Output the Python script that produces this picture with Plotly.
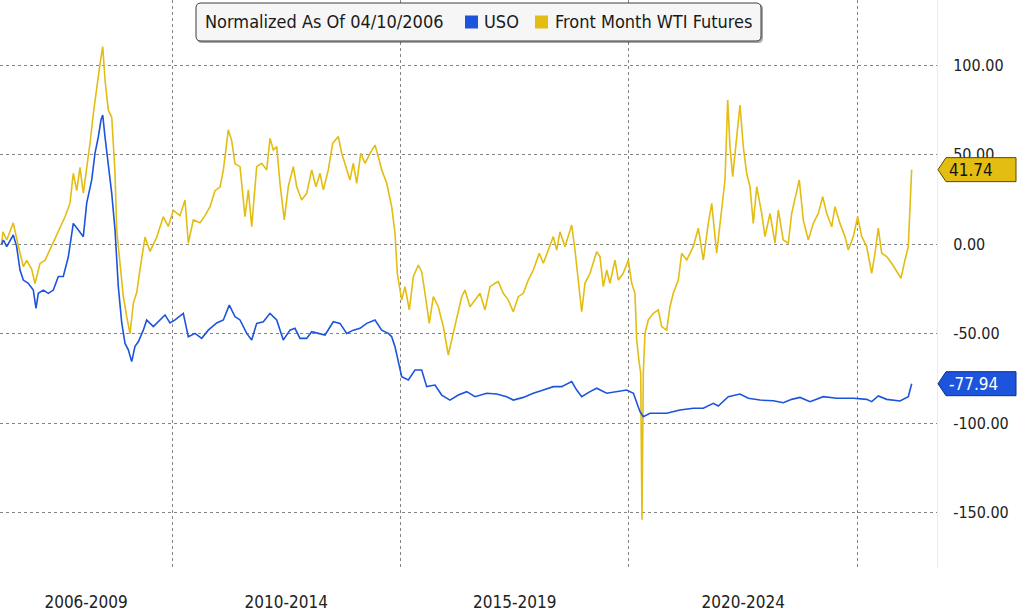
import plotly.graph_objects as go

# ---------------- data (decimal year, % change normalized to 04/10/2006) ----------------
wti_t = [2006.270, 2006.300, 2006.383, 2006.527, 2006.637, 2006.746, 2006.821, 2006.930, 2007.002,
         2007.112, 2007.221, 2007.330, 2007.440, 2007.549, 2007.659, 2007.768, 2007.840, 2007.915,
         2007.987, 2008.059, 2008.147, 2008.206, 2008.278, 2008.352, 2008.425, 2008.484, 2008.534,
         2008.606, 2008.681, 2008.753, 2008.790, 2008.862, 2008.934, 2009.009, 2009.081, 2009.153,
         2009.228, 2009.300, 2009.409, 2009.519, 2009.665, 2009.810, 2009.919, 2010.028, 2010.175,
         2010.284, 2010.357, 2010.466, 2010.613, 2010.722, 2010.832, 2010.941, 2011.050, 2011.123,
         2011.232, 2011.306, 2011.379, 2011.488, 2011.597, 2011.670, 2011.744, 2011.853, 2011.963,
         2012.072, 2012.144, 2012.217, 2012.291, 2012.363, 2012.457, 2012.545, 2012.654, 2012.729,
         2012.838, 2012.947, 2013.057, 2013.151, 2013.239, 2013.311, 2013.420, 2013.516, 2013.639,
         2013.713, 2013.823, 2013.895, 2013.967, 2014.042, 2014.129, 2014.223, 2014.333, 2014.442,
         2014.514, 2014.589, 2014.698, 2014.807, 2014.880, 2014.930, 2015.026, 2015.098, 2015.193,
         2015.280, 2015.390, 2015.464, 2015.536, 2015.630, 2015.718, 2015.827, 2015.937, 2016.046,
         2016.120, 2016.230, 2016.339, 2016.411, 2016.521, 2016.630, 2016.740, 2016.849, 2016.958,
         2017.068, 2017.140, 2017.249, 2017.359, 2017.468, 2017.578, 2017.687, 2017.796, 2017.906,
         2018.037, 2018.125, 2018.234, 2018.344, 2018.418, 2018.490, 2018.600, 2018.672, 2018.746,
         2018.818, 2018.891, 2018.965, 2019.037, 2019.147, 2019.293, 2019.365, 2019.438, 2019.512,
         2019.584, 2019.694, 2019.766, 2019.875, 2019.985, 2020.059, 2020.131, 2020.168, 2020.225,
         2020.256, 2020.284, 2020.313, 2020.350, 2020.422, 2020.532, 2020.641, 2020.716, 2020.825,
         2020.897, 2020.969, 2021.079, 2021.153, 2021.263, 2021.407, 2021.516, 2021.626, 2021.735,
         2021.810, 2021.919, 2022.028, 2022.101, 2022.160, 2022.210, 2022.269, 2022.357, 2022.429,
         2022.501, 2022.575, 2022.648, 2022.720, 2022.795, 2022.904, 2022.976, 2023.086, 2023.195,
         2023.267, 2023.376, 2023.486, 2023.560, 2023.670, 2023.726, 2023.814, 2023.923, 2024.033,
         2024.142, 2024.239, 2024.326, 2024.436, 2024.508, 2024.617, 2024.726, 2024.799, 2024.908,
         2025.004, 2025.092, 2025.201, 2025.311, 2025.383, 2025.455, 2025.530, 2025.639, 2025.748,
         2025.858, 2025.952, 2026.039, 2026.112, 2026.149, 2026.186]
wti_v = [0, 7, 2.4, 12, -1, -12.5, -9, -14, -22,
         -10.7, -9, -3, 4, 10, 15.4, 23, 39.7, 30,
         43, 28.6, 45, 56.5, 73, 88, 101, 110.5, 92,
         75, 71, 40, 8, -10.6, -29, -40.5, -50, -33,
         -27, -14, 4, -4, 4, 15.4, 10, 19, 16,
         24.8, 0.7, 13.6, 12, 16, 21, 30, 32, 41.5,
         64, 58, 45, 43.4, 15.4, 30.4, 9.8, 43.4, 45.3,
         41.6, 59.3, 52.7, 54.6, 34.1, 13.6, 32.2, 43.4, 32.2,
         24.8, 28.5, 41.6, 32.2, 39.7, 30.4, 41.6, 56.5, 60.2,
         50.9, 41.6, 36, 45.3, 34.1, 50.9, 45.3, 50.9, 55.5,
         49, 41.6, 34.1, 21, 6.2, -16.2, -31.2, -23.7, -36.7,
         -18.1, -11.6, -15.3, -27.4, -44.2, -29.3, -34.9, -46.1, -61.9,
         -53.5, -40.5, -29.3, -25.6, -34.9, -31.2, -27.4, -36.7, -23.7,
         -21.8, -20.9, -27.4, -31.2, -37.7, -29.3, -27.4, -20, -14.4,
         -5, -10.6, -3.2, 4.3, -3.2, 7, -1.3, 4.3, 10.8,
         -3.2, -21.8, -37.7, -21.8, -16.2, -4.1, -6.9, -23.7, -14.4,
         -21.8, -8.8, -20, -16.2, -8.8, -21.8, -27.4, -53.5, -66.6,
         -72.1, -154, -72.1, -49.8, -42.3, -38.6, -36.7, -46, -48,
         -34.9, -27.4, -20, -5, -8.8, -1.3, 9, -8.8, 11.7,
         22.9, -5, 21, 36, 80.7, 54.6, 37.8, 58.3, 77.9,
         54.6, 39.7, 32.2, 11.7, 32.2, 17.3, 4.3, 17.3, 0.6,
         19.2, 2.4, 0.6, 17.3, 30.4, 36, 13.6, 2.4, 11.7,
         17.3, 26.6, 17.3, 9.8, 21, 11.7, 4.3, -3.2, 4.3,
         15.4, 4.3, -1.3, -16.2, -5, 9, -5, -6.9, -10.6,
         -15.3, -19, -8.8, -1.3, 21, 41.74]

uso_t = [2006.270, 2006.312, 2006.383, 2006.527, 2006.600, 2006.674, 2006.746, 2006.855, 2006.965,
         2007.024, 2007.074, 2007.184, 2007.293, 2007.403, 2007.512, 2007.621, 2007.731, 2007.840,
         2007.950, 2008.059, 2008.133, 2008.243, 2008.315, 2008.387, 2008.446, 2008.484, 2008.534,
         2008.606, 2008.681, 2008.753, 2008.825, 2008.900, 2008.972, 2009.044, 2009.118, 2009.190,
         2009.263, 2009.372, 2009.446, 2009.591, 2009.737, 2009.847, 2009.956, 2010.066, 2010.247,
         2010.357, 2010.503, 2010.650, 2010.794, 2010.978, 2011.123, 2011.254, 2011.379, 2011.488,
         2011.635, 2011.744, 2011.853, 2011.998, 2012.144, 2012.291, 2012.435, 2012.582, 2012.691,
         2012.801, 2012.947, 2013.057, 2013.201, 2013.348, 2013.530, 2013.676, 2013.823, 2013.967,
         2014.114, 2014.260, 2014.442, 2014.589, 2014.733, 2014.807, 2014.880, 2014.952, 2015.026,
         2015.171, 2015.317, 2015.464, 2015.573, 2015.755, 2015.902, 2016.083, 2016.265, 2016.449,
         2016.630, 2016.886, 2017.105, 2017.324, 2017.468, 2017.687, 2017.906, 2018.125, 2018.344,
         2018.527, 2018.746, 2018.856, 2018.965, 2019.147, 2019.293, 2019.512, 2019.694, 2019.950,
         2020.096, 2020.168, 2020.241, 2020.313, 2020.459, 2020.825, 2021.116, 2021.407, 2021.626,
         2021.845, 2021.954, 2022.173, 2022.429, 2022.611, 2022.867, 2023.158, 2023.376, 2023.560,
         2023.742, 2023.961, 2024.252, 2024.545, 2024.908, 2025.201, 2025.311, 2025.455, 2025.639,
         2025.930, 2026.112, 2026.186]
uso_v = [0, 2.4, -1.3, 5.2, -1.3, -14.4, -20, -21.8, -25.6,
         -35.8, -27.4, -25.6, -27.4, -25.6, -18, -18, -7, 11.7,
         8, 4.2, 23, 36, 51, 60, 69.5, 72.3, 60,
         45, 28.5, 8, -23.7, -44, -55.4, -59, -65.6, -57,
         -54.5, -48, -42.3, -46, -42.3, -39.5, -44, -42.3, -38.6,
         -51.7, -49.8, -52.6, -48, -44, -42.3, -34, -40.5, -42.3,
         -49.8, -53.5, -44.2, -43.3, -38.6, -42.3, -53.5, -48, -47,
         -52.6, -52.6, -48.9, -49.8, -50.7, -43.3, -44.2, -49.8, -48,
         -47, -44.2, -42.3, -48, -49.8, -51.7, -57.3, -66.6, -74,
         -75.9, -70.3, -70.3, -79.6, -78.7, -84.3, -87.1, -84.3, -82.4,
         -85.2, -83.3, -83.7, -85.2, -87.1, -85.6, -83.3, -81.5, -79.6,
         -79.6, -76.8, -81.5, -85.2, -82.4, -80.5, -83.3, -82.4, -81.5,
         -83.3, -88, -93.6, -96.4, -94.5, -94.5, -92.7, -91.7, -91.7,
         -88.9, -90.4, -85.2, -83.7, -86.1, -87.1, -87.5, -88.6, -86.7,
         -85.6, -88, -85.2, -86.1, -86.1, -86.7, -88, -84.8, -86.7,
         -87.6, -85.2, -77.94]

period_labels = ["2006-2009", "2010-2014", "2015-2019", "2020-2024"]
period_centers = [2008.12, 2012.5, 2017.5, 2022.5]
period_bounds = [2010, 2015, 2020, 2025]
y_ticks = [-150, -100, -50, 0, 50, 100]
legend_title = "Normalized As Of 04/10/2006"
uso_name = "USO"
wti_name = "Front Month WTI Futures"

# ---------------- styling ----------------
W, H = 1028, 615
ML, MR, MT, MB = 0, 91, 0, 47
PW, PH = W - ML - MR, H - MT - MB
BLUE = "#1c54dc"
YELLOW = "#e3bd12"
GRID = "#858585"
FONT = "DejaVu Sans Condensed, DejaVu Sans, Liberation Sans, sans-serif"


def px_x(p):
    return p / PW


def px_y(p):
    return 1 - p / PH


fig = go.Figure()
fig.add_trace(go.Scatter(x=wti_t, y=wti_v, mode="lines", name=wti_name,
                         line=dict(color=YELLOW, width=1.6), showlegend=False))
fig.add_trace(go.Scatter(x=uso_t, y=uso_v, mode="lines", name=uso_name,
                         line=dict(color=BLUE, width=1.6), showlegend=False))

shapes = []
annotations = []


def rounded(x0, y0, x1, y1, r):
    rx, ry = r / PW, r / PH
    X0, X1, Y0, Y1 = px_x(x0), px_x(x1), px_y(y0), px_y(y1)
    return (f"M {X0+rx} {Y0} L {X1-rx} {Y0} Q {X1} {Y0} {X1} {Y0-ry} "
            f"L {X1} {Y1+ry} Q {X1} {Y1} {X1-rx} {Y1} L {X0+rx} {Y1} "
            f"Q {X0} {Y1} {X0} {Y1+ry} L {X0} {Y0-ry} Q {X0} {Y0} {X0+rx} {Y0} Z")


# legend box (shadow + rounded box)
shapes.append(dict(type="path", xref="paper", yref="paper", path=rounded(197, 4, 763, 43, 5),
                   fillcolor="rgba(0,0,0,0.35)", line=dict(width=0), layer="above"))
shapes.append(dict(type="path", xref="paper", yref="paper", path=rounded(196, 3, 761, 41, 5),
                   fillcolor="#f6f6f6", line=dict(color="#3c3c3c", width=1), layer="above"))
for sx, col in [(465, BLUE), (535, YELLOW)]:
    shapes.append(dict(type="rect", xref="paper", yref="paper",
                       x0=px_x(sx), x1=px_x(sx + 13), y0=px_y(15.5), y1=px_y(28.5),
                       fillcolor=col, line=dict(width=0), layer="above"))
for tx, txt in [(203, legend_title), (482, uso_name), (553, wti_name)]:
    annotations.append(dict(xref="paper", yref="paper", x=px_x(tx), y=px_y(22),
                            xanchor="left", yanchor="middle", text=txt, showarrow=False,
                            font=dict(family=FONT, size=18, color="#1a1a1a")))

# last value tags on the right axis
for val, fill, edge, tcol in [(wti_v[-1], YELLOW, "#5a4a00", "#111111"),
                              (uso_v[-1], BLUE, "#0d2f8a", "#ffffff")]:
    shapes.append(dict(type="path", xref="paper", yref="y", xsizemode="pixel", ysizemode="pixel",
                       xanchor=1, yanchor=val,
                       path="M 1 0 L 9 12 L 79 12 L 79 -12 L 9 -12 Z",
                       fillcolor=fill, line=dict(color=edge, width=1), layer="above"))
    annotations.append(dict(xref="paper", yref="y", x=px_x(PW + 10), y=val, xanchor="left",
                            yanchor="middle", text=f"{val:.2f}", showarrow=False,
                            font=dict(family=FONT, size=17, color=tcol)))

fig.update_layout(
    width=W, height=H,
    margin=dict(l=ML, r=MR, t=MT, b=MB, pad=0),
    paper_bgcolor="white", plot_bgcolor="white",
    showlegend=False,
    shapes=shapes, annotations=annotations,
    font=dict(family=FONT, color="#222222"),
    xaxis=dict(range=[2006.236, 2026.74], tickmode="array", tickvals=period_centers,
               ticktext=period_labels, showgrid=False, zeroline=False, ticks="",
               ticklabelstandoff=22, tickfont=dict(size=17, family=FONT, color="#222222"),
               minor=dict(tickmode="array", tickvals=period_bounds, showgrid=True,
                          griddash="dot", gridcolor=GRID, gridwidth=1, ticks=""),
               fixedrange=True),
    yaxis=dict(range=[-181.0, 136.6], side="right", tickmode="array", tickvals=y_ticks,
               ticktext=[f"{v:.2f}" for v in y_ticks],
               showgrid=True, griddash="dot", gridcolor=GRID, gridwidth=1,
               zeroline=False, ticks="", ticklabelstandoff=12, showline=True,
               linecolor="#eeeaea", linewidth=1,
               tickfont=dict(size=16, family=FONT, color="#222222"), fixedrange=True),
)

fig.write_html("out.html")
